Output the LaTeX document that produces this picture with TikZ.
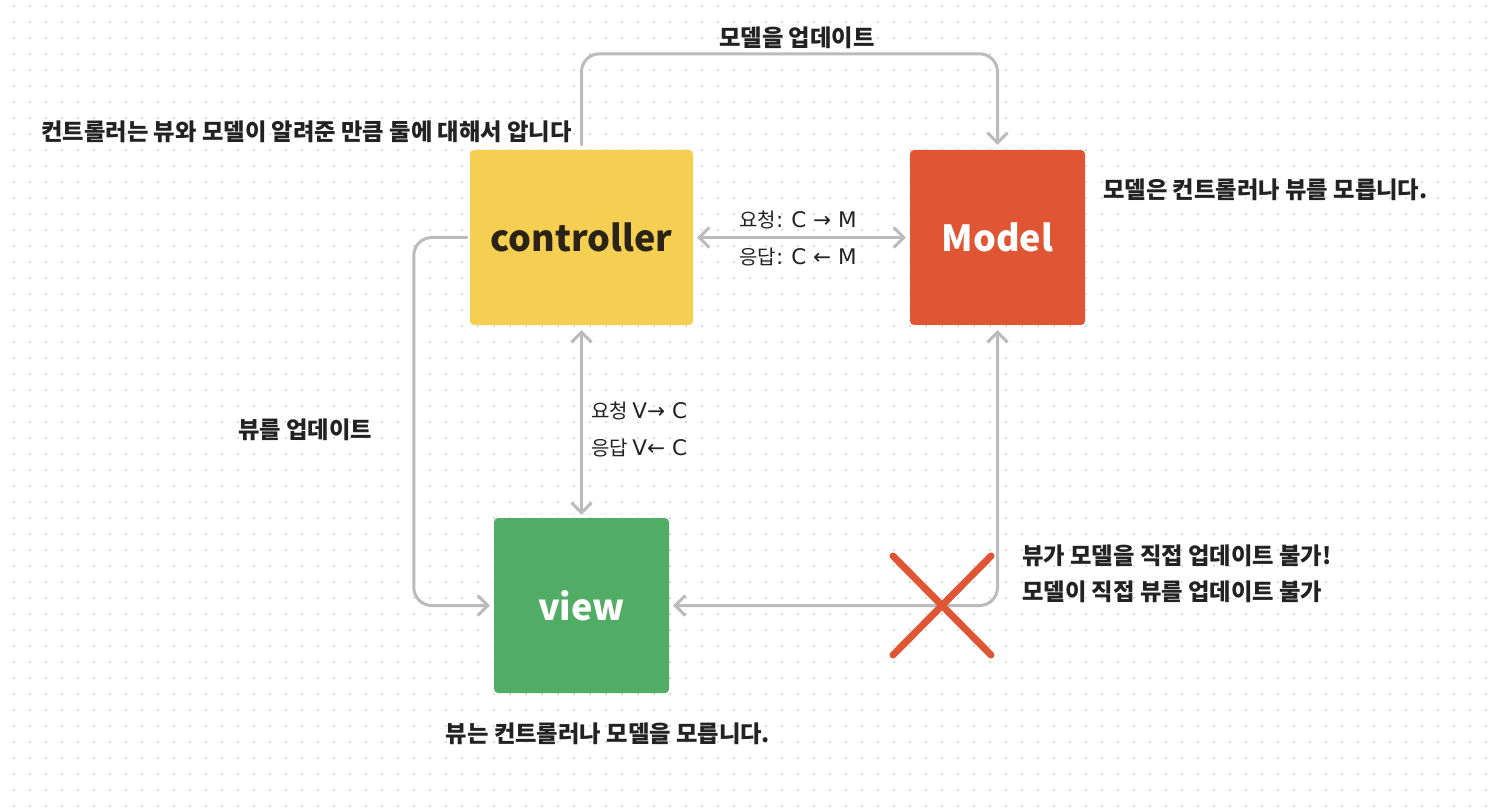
\documentclass[tikz,border=0pt]{standalone}
\usepackage{fontspec}
\setmainfont{Noto Sans CJK KR}
\newfontfamily\lat{DejaVu Sans}
\usetikzlibrary{arrows.meta}
\definecolor{lnc}{HTML}{BBBBBB}
\definecolor{dotc}{HTML}{DCDCDC}
\definecolor{ctrlc}{HTML}{F5CF52}
\definecolor{modelc}{HTML}{E05635}
\definecolor{viewc}{HTML}{51AD65}
\definecolor{txtc}{HTML}{222222}
\definecolor{ctrltxt}{HTML}{2B2416}
\tikzset{
  box/.style={rounded corners=4pt, inner sep=0pt, minimum width=#1, font=\fontsize{36}{40}\selectfont\bfseries},
  conn/.style={draw=lnc, line width=3pt, rounded corners=18pt, line cap=round, line join=round},
  barb/.tip={Straight Barb[length=10pt,width=20pt]},
  bl/.style={text=txtc, inner sep=0pt, font=\fontsize{23.3}{28}\selectfont\bfseries},
  rl/.style={text=txtc, inner sep=0pt, font=\fontsize{20}{24}\selectfont},
  xmark/.style={draw=modelc, line width=7pt, line cap=round}
}
\newcommand{\lt}[1]{{\lat\fontsize{21.5}{24}\selectfont #1}}
\begin{document}
\begin{tikzpicture}[x=1pt,y=-1pt]
\useasboundingbox (0,0) rectangle (1492,810);
\fill[white] (0,0) rectangle (1492,810);
\foreach \i in {0,...,92} {
  \foreach \j in {0,...,50} {
    \fill[dotc] ({13+16*\i},{5+16*\j}) rectangle ++(2,2);
  }
}
% boxes
\node[box=223pt, minimum height=175pt, fill=ctrlc, text=ctrltxt] (ctrl) at (581.5,237.5) {controller};
\node[box=175pt, minimum height=175pt, fill=modelc, text=white] (model) at (997.5,237.5) {Model};
\node[box=175pt, minimum height=175pt, fill=viewc, text=white] (view) at (581.5,605.5) {view};
% connectors
\draw[conn, barb-barb] ([xshift=4pt]ctrl.east) -- ([xshift=-4pt]model.west);
\draw[conn, barb-barb] ([yshift=-5pt]ctrl.south) -- ([yshift=3pt]view.north);
\draw[conn, -barb] ([yshift=5pt]ctrl.north) -- ++(0,-91) -| ([yshift=5pt]model.north);
\draw[conn, -barb] ([xshift=-3pt]ctrl.west) -- ++(-53,0) |- ([xshift=-4pt]view.west);
\draw[conn, barb-barb] ([xshift=4pt]view.east) -| ([yshift=-5pt]model.south);
% red cross
\draw[xmark] (893,556) -- (991,655);
\draw[xmark] (991,556) -- (893,655);
% labels
\node[rl, anchor=west] (req1) at (739,220) {요청\lt{:\kern-1pt{} C → M}};
\node[rl, anchor=west] (res1) at (739,257) {응답\lt{:\kern-1pt{} C ← M}};
\node[rl, anchor=west] (req2) at (591,411) {요청 \lt{V→ C}};
\node[rl, anchor=west] (res2) at (591,448) {응답 \lt{V← C}};
\node[bl] (upm) at (797,38) {모델을 업데이트};
\node[bl] (upv) at (305,430) {뷰를 업데이트};
\node[bl, anchor=east] (cnote) at (572,132) {컨트롤러는 뷰와 모델이 알려준 만큼 둘에 대해서 압니다};
\node[bl, anchor=west] (mnote) at (1103,190) {모델은 컨트롤러나 뷰를 모릅니다.};
\node[bl, anchor=west] (x1) at (1022,556) {뷰가 모델을 직접 업데이트 불가!};
\node[bl, anchor=west] (x2) at (1022,592) {모델이 직접 뷰를 업데이트 불가};
\node[bl] (vnote) at (608,734) {뷰는 컨트롤러나 모델을 모릅니다.};
\end{tikzpicture}
\end{document}
